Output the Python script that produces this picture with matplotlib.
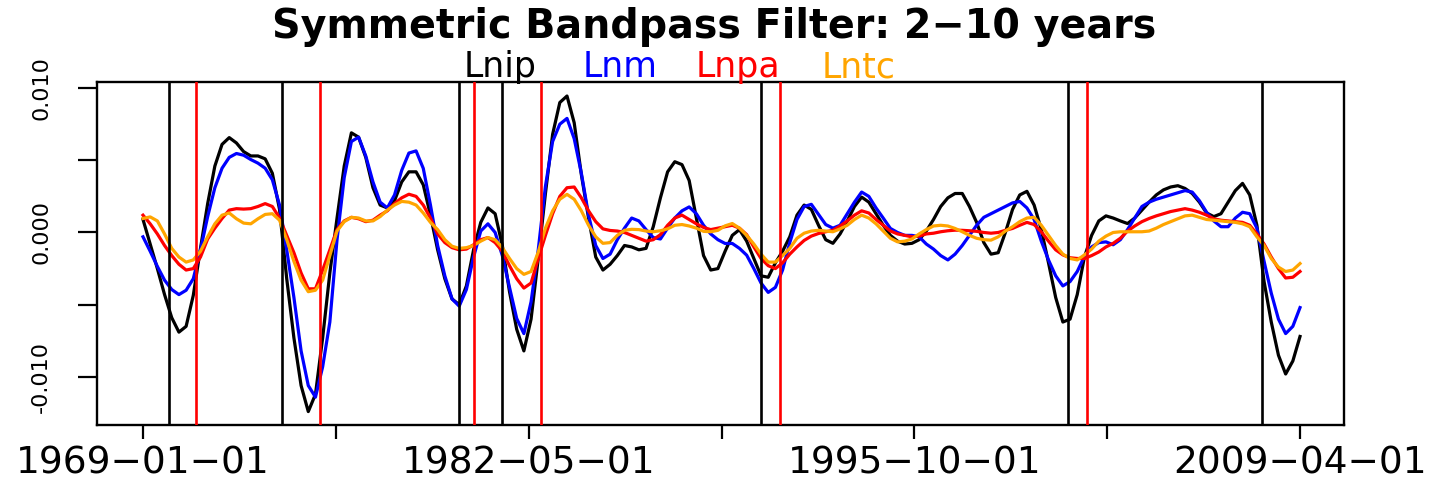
import numpy as np
import matplotlib
matplotlib.use('Agg')
import matplotlib.pyplot as plt

# quarterly bandpass-filtered series, 1969-01-01 .. 2009-04-01 (values x 1e-3)
start_year = 1969.0

lnip = np.array([
    0.9, -0.8, -2.5, -4.3, -5.9, -6.9, -6.5, -4.35, -1.1, 2.0,
    4.6, 6.1, 6.57, 6.2, 5.6, 5.3, 5.3, 5.1, 4.1, 1.6,
    -3.2, -7.3, -10.6, -12.4, -11.2, -7.3, -2.8, 1.0, 4.6, 6.9,
    6.6, 5.2, 3.1, 1.9, 1.7, 2.2, 3.5, 4.2, 4.2, 3.3,
    1.2, -1.2, -3.2, -4.6, -5.0, -3.7, -1.2, 0.7, 1.7, 1.3,
    -0.9, -4.1, -6.7, -8.2, -6.0, -1.8, 2.7, 6.8, 9.0, 9.45,
    7.6, 4.0, 1.0, -1.7, -2.6, -2.2, -1.6, -0.9, -1.0, -1.2,
    -1.1, 0.4, 2.4, 4.2, 4.9, 4.7, 3.6, 1.0, -1.6, -2.6,
    -2.5, -1.3, -0.2, 0.2, -0.6, -1.8, -3.0, -3.1, -2.1, -1.3,
    -0.3, 1.2, 1.9, 1.6, 0.5, -0.5, -0.75, -0.1, 0.8, 1.8,
    2.45, 2.1, 1.3, 0.5, -0.2, -0.6, -0.8, -0.75, -0.5, 0.1,
    0.9, 1.8, 2.4, 2.7, 2.7, 1.8, 0.7, -0.7, -1.5, -1.4,
    0.0, 1.6, 2.6, 2.85, 1.9, 0.2, -2.1, -4.5, -6.2, -6.0,
    -4.3, -1.7, -0.2, 0.8, 1.15, 1.0, 0.8, 0.62, 1.0, 1.55,
    2.1, 2.6, 2.95, 3.15, 3.24, 3.05, 2.7, 2.1, 1.35, 1.1,
    1.3, 2.1, 2.9, 3.4, 2.6, 0.5, -3.4, -6.2, -8.5, -9.8,
    -8.9, -7.2]) * 1e-3

lnm = np.array([
    -0.3, -1.3, -2.35, -3.3, -3.95, -4.3, -4.0, -3.2, -1.2, 1.1,
    3.1, 4.45, 5.2, 5.47, 5.35, 5.05, 4.8, 4.45, 3.65, 1.9,
    -1.2, -4.5, -8.2, -10.6, -11.4, -9.3, -6.2, -0.5, 3.8, 6.3,
    6.6, 5.3, 3.5, 2.1, 1.7, 2.6, 4.3, 5.5, 5.65, 4.44,
    1.9, -0.9, -3.0, -4.6, -5.1, -3.95, -1.7, 0.1, 0.6, 0.0,
    -1.6, -3.8, -5.95, -7.0, -4.8, -1.2, 3.2, 6.3, 7.5, 7.9,
    6.5, 4.1, 1.2, -0.9, -1.8, -1.5, -0.5, 0.3, 1.0, 0.8,
    0.2, -0.35, -0.45, 0.3, 1.0, 1.5, 1.77, 1.3, 0.5, -0.1,
    -0.5, -0.76, -0.76, -1.1, -1.57, -2.5, -3.5, -4.15, -3.8, -2.6,
    -0.7, 0.9, 1.8, 1.95, 1.25, 0.55, 0.3, 0.5, 1.3, 2.1,
    2.8, 2.5, 1.7, 1.0, 0.28, 0.0, -0.2, -0.2, -0.3, -0.8,
    -1.15, -1.6, -1.9, -1.5, -0.9, -0.2, 0.5, 1.05, 1.3, 1.55,
    1.8, 2.05, 2.15, 1.7, 0.9, -0.6, -1.9, -3.0, -3.7, -3.4,
    -2.7, -1.65, -1.0, -0.7, -0.65, -0.85, -0.5, 0.2, 1.0, 1.8,
    2.1, 2.3, 2.45, 2.6, 2.75, 2.9, 2.8, 2.2, 1.4, 0.8,
    0.4, 0.4, 1.0, 1.4, 1.3, 0.3, -2.0, -4.2, -6.0, -7.0,
    -6.5, -5.2]) * 1e-3

lnpa = np.array([
    1.2, 0.6, -0.1, -0.9, -1.6, -2.2, -2.6, -2.5, -1.7, -0.45,
    0.3, 0.97, 1.55, 1.65, 1.62, 1.65, 1.8, 2.0, 1.8, 1.0,
    -0.2, -1.4, -2.8, -3.9, -3.9, -2.6, -1.2, 0.2, 0.8, 1.05,
    0.95, 0.75, 0.85, 1.2, 1.5, 2.0, 2.4, 2.65, 2.5, 1.9,
    1.0, -0.1, -0.7, -1.05, -1.2, -1.15, -0.85, -0.5, -0.35, -0.7,
    -1.3, -2.3, -3.2, -3.85, -3.5, -1.8, -0.2, 1.3, 2.5, 3.1,
    3.15, 2.4, 1.5, 0.75, 0.25, 0.14, 0.1, 0.0, -0.2, -0.4,
    -0.6, -0.5, -0.15, 0.5, 1.0, 1.2, 0.9, 0.6, 0.35, 0.2,
    0.3, 0.4, 0.5, 0.3, -0.15, -1.0, -1.8, -2.3, -2.5, -2.1,
    -1.5, -1.0, -0.55, -0.25, -0.07, 0.05, 0.15, 0.45, 0.8, 1.2,
    1.5, 1.35, 0.9, 0.5, 0.1, -0.1, -0.2, -0.3, -0.25, -0.1,
    -0.05, 0.05, 0.12, 0.16, 0.15, 0.12, 0.08, 0.0, -0.05, 0.0,
    0.15, 0.28, 0.5, 0.7, 0.55, 0.05, -0.6, -1.2, -1.55, -1.75,
    -1.8, -1.8, -1.6, -1.35, -1.0, -0.75, -0.4, 0.1, 0.45, 0.75,
    0.97, 1.15, 1.3, 1.45, 1.55, 1.65, 1.55, 1.4, 1.2, 0.95,
    0.85, 0.8, 0.75, 0.7, 0.5, -0.1, -0.8, -1.7, -2.5, -3.15,
    -3.1, -2.7]) * 1e-3

lntc = np.array([
    0.97, 1.08, 0.8, -0.1, -1.1, -1.7, -2.05, -1.9, -1.3, -0.3,
    0.6, 1.2, 1.35, 0.95, 0.65, 0.6, 0.95, 1.25, 1.3, 0.85,
    -0.5, -2.0, -3.3, -4.1, -4.0, -3.3, -1.6, 0.1, 0.75, 1.05,
    1.0, 0.8, 0.8, 1.1, 1.55, 1.9, 2.15, 2.1, 1.9, 1.35,
    0.7, 0.2, -0.5, -0.95, -1.1, -1.05, -0.9, -0.6, -0.35, -0.5,
    -1.05, -1.8, -2.5, -2.9, -2.7, -1.35, 0.3, 1.5, 2.3, 2.64,
    2.3, 1.5, 0.5, -0.3, -0.75, -0.7, -0.2, 0.15, 0.22, 0.2,
    0.1, 0.05, 0.12, 0.25, 0.5, 0.55, 0.45, 0.3, 0.08, 0.05,
    0.15, 0.46, 0.62, 0.3, -0.2, -0.8, -1.5, -2.05, -2.05, -1.6,
    -1.1, -0.4, -0.05, 0.1, 0.15, 0.1, 0.05, 0.25, 0.5, 0.9,
    1.2, 1.0, 0.6, 0.1, -0.4, -0.65, -0.6, -0.45, -0.1, 0.2,
    0.45, 0.5, 0.45, 0.28, 0.05, -0.2, -0.4, -0.5, -0.53, -0.3,
    0.1, 0.4, 0.75, 1.0, 1.05, 0.5, -0.2, -0.9, -1.5, -1.8,
    -1.9, -1.55, -1.15, -0.6, -0.25, 0.0, 0.05, 0.05, 0.05, 0.05,
    0.1, 0.3, 0.55, 0.75, 0.95, 1.15, 1.2, 1.05, 0.9, 0.85,
    0.8, 0.75, 0.7, 0.6, 0.4, -0.3, -0.9, -1.8, -2.4, -2.7,
    -2.6, -2.15]) * 1e-3

series_names = ['Lnip', 'Lnm', 'Lnpa', 'Lntc']
series_colors = ['black', 'blue', 'red', 'orange']

# business cycle peaks (black) and troughs (red), year-month
peaks = ['1969-12', '1973-11', '1980-01', '1981-07', '1990-07', '2001-03', '2007-12']
troughs = ['1970-11', '1975-03', '1980-07', '1982-11', '1991-03', '2001-11']

x_labels = ['1969\u221201\u221201', '', '1982\u221205\u221201', '',
            '1995\u221210\u221201', '', '2009\u221204\u221201']
y_ticks = [-0.010, -0.005, 0.0, 0.005, 0.010]
y_labels = ['-0.010', '', '0.000', '', '0.010']


def to_year(ym):
    y, m = ym.split('-')
    return int(y) + (int(m) - 1) / 12.0


t = start_year + np.arange(len(lnip)) / 4.0

W, H = 1431, 479
fig = plt.figure(figsize=(W / 100, H / 100), dpi=100)
ax = fig.add_axes([97 / W, (H - 425) / H, (1344 - 97) / W, (425 - 82) / H])

for vals, col in zip([lnip, lnm, lnpa, lntc], series_colors):
    ax.plot(t, vals, color=col, lw=2.3, solid_joinstyle='round', zorder=2)

for p in peaks:
    ax.axvline(to_year(p), color='black', lw=1.9, zorder=3)
for tr in troughs:
    ax.axvline(to_year(tr), color='red', lw=1.9, zorder=3)

ax.set_xlim(1967.40, 2010.78)
ax.set_ylim(-0.01333, 0.01042)

ax.set_xticks(np.linspace(t[0], t[-1], 7))
ax.set_xticklabels(x_labels, fontsize=27, family='DejaVu Sans')
ax.set_yticks(y_ticks)
ax.set_yticklabels(y_labels, fontsize=16, rotation=90, va='center', family='DejaVu Sans')
ax.tick_params(axis='x', length=10, width=1.6, pad=5)
ax.tick_params(axis='y', length=14, width=1.6, pad=19)
for s in ax.spines.values():
    s.set_linewidth(1.7)

fig.text(714 / W, (H - 38) / H, 'Symmetric Bandpass Filter: 2\u221210 years',
         ha='center', va='baseline', fontsize=28.5, fontweight='bold')
centers = [500, 620, 738, 859]
for name, col, cx in zip(series_names, series_colors, centers):
    fig.text(cx / W, (H - 77) / H, name, color=col, ha='center', va='baseline', fontsize=25)

fig.savefig('out.png', dpi=100)
